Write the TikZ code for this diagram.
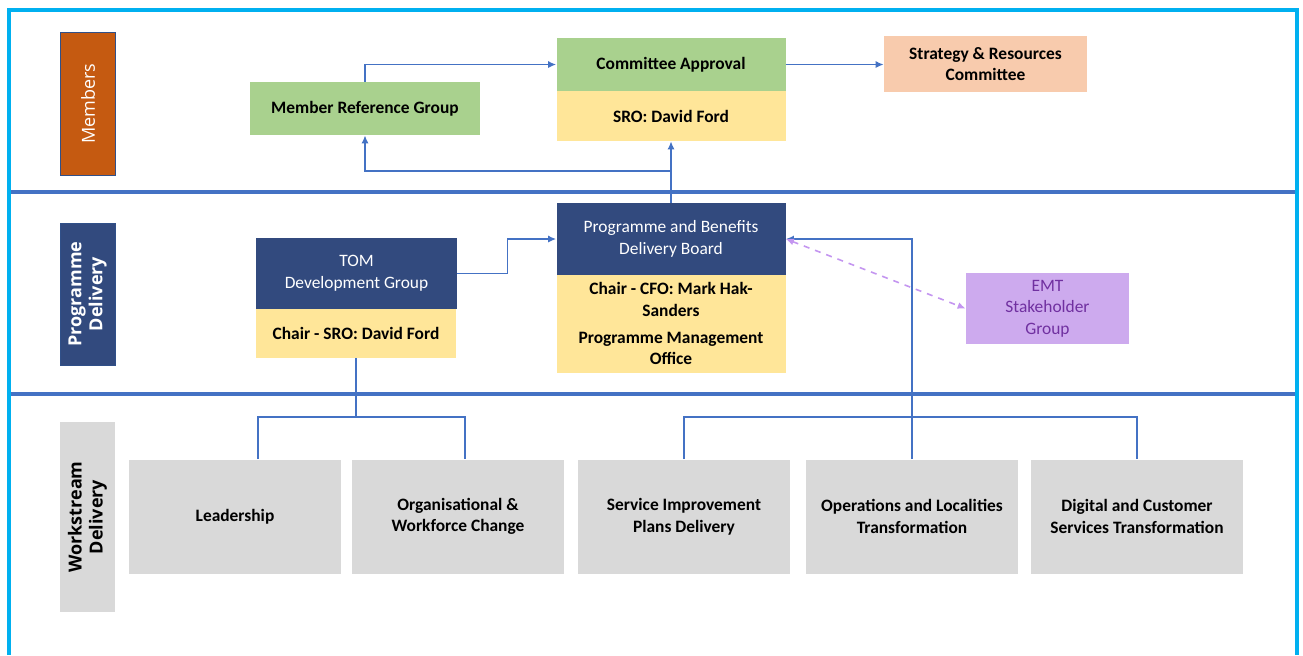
\documentclass[tikz,border=0pt]{standalone}
\usepackage{fontspec}
\setmainfont{Carlito}
\newfontfamily\lblfont{Open Sans}
\usetikzlibrary{arrows.meta}

\definecolor{framecyan}{HTML}{00B0F0}
\definecolor{linkblue}{HTML}{4472C4}
\definecolor{navy}{RGB}{50,74,126}
\definecolor{rust}{HTML}{C55A11}
\definecolor{leaf}{HTML}{A9D18E}
\definecolor{butter}{HTML}{FFE699}
\definecolor{peach}{HTML}{F8CBAD}
\definecolor{lilac}{RGB}{205,170,238}
\definecolor{plum}{HTML}{7030A0}
\definecolor{lilacline}{RGB}{196,150,240}
\definecolor{stone}{HTML}{D9D9D9}

\tikzset{
    box/.style={rectangle, inner sep=1pt, align=center,
        font=\bfseries\fontsize{8.7}{10.8}\selectfont},
    plainbox/.style={box, font=\fontsize{8.7}{10.8}\selectfont},
    stream/.style={box, fill=stone, minimum width=106pt, minimum height=57pt},
    lane/.style={rectangle, minimum height=27.5pt, rotate=90, align=center,
        font=\lblfont\fontsize{9}{10.5}\selectfont},
    boldlane/.style={lane, font=\lblfont\bfseries\fontsize{9}{10.5}\selectfont},
    link/.style={linkblue, line width=0.6pt},
    arr/.style={link, -{Latex[length=4pt,width=3.5pt]}},
}

\begin{document}
\begin{tikzpicture}[x=0.5pt, y=-0.5pt]
        \useasboundingbox (0,0) rectangle (1303,655);

        % frame and lane dividers
        \draw[framecyan, line width=2pt] (9,655) -- (9,10) -- (1297,10) -- (1297,655);
        \draw[linkblue, line width=2pt] (11,192) -- (1295,192);
        \draw[linkblue, line width=2pt] (11,394) -- (1295,394);

        % lane labels
        \node[lane, fill=rust, draw=linkblue!70!black, minimum width=71.5pt, text=white] (members) at (88,103.5) {Members};
        \node[boldlane, fill=navy, draw=linkblue!70!black, minimum width=71pt, text=white] (progdel) at (87.5,294) {Programme\\Delivery};
        \node[boldlane, fill=stone, minimum width=95pt] (workdel) at (87.5,517) {Workstream\\Delivery};

        % members lane
        \node[box, fill=leaf, minimum width=115pt, minimum height=26.5pt] (mrg) at (365,108.5) {Member Reference Group};
        \node[box, fill=leaf, minimum width=114.5pt, minimum height=26.5pt] (approval) at (671,64.5) {Committee Approval};
        \node[box, fill=butter, minimum width=114.5pt, minimum height=25pt] (sro) at (671,116) {SRO: David Ford};
        \node[box, fill=peach, minimum width=101.5pt, minimum height=28pt] (src) at (985.5,64) {Strategy \& Resources\\Committee};

        % programme lane
        \node[plainbox, fill=navy, text=white, minimum width=100.5pt, minimum height=35.5pt] (tom) at (356.5,273.5) {TOM\\Development Group};
        \node[box, fill=butter, minimum width=100pt, minimum height=24.5pt] (tomchair) at (356,333.5) {Chair - SRO: David Ford};
        \node[plainbox, fill=navy, text=white, minimum width=114.5pt, minimum height=36pt] (board) at (671,239) {Programme and Benefits\\Delivery Board};
        \node[box, fill=butter, minimum width=114.5pt, minimum height=24.5pt] (cfo) at (671,299.5) {Chair - CFO: Mark Hak-\\Sanders};
        \node[box, fill=butter, minimum width=114.5pt, minimum height=24.5pt] (pmo) at (671,348.5) {Programme Management\\Office};
        \node[plainbox, fill=lilac, text=plum, minimum width=81.5pt, minimum height=35.5pt] (emt) at (1047.5,308.5) {EMT\\Stakeholder\\Group};

        % workstream lane
        \node[stream] (lead) at (235,516.5) {Leadership};
        \node[stream] (org) at (458,516.5) {Organisational \&\\Workforce Change};
        \node[stream] (sip) at (684,516.5) {Service Improvement\\Plans Delivery};
        \node[stream] (ops) at (912,516.5) {Operations and Localities\\Transformation};
        \node[stream] (digital) at (1137,516.5) {Digital and Customer\\Services Transformation};

        % connectors
        \coordinate (upsplit) at (671,171);
        \coordinate (leftsplit) at (356,417);
        \coordinate (rightsplit) at (912,417);

        \draw[arr] (mrg.north) |- (approval.west);
        \draw[arr] (approval.east) -- (approval.east -| src.west);
        \draw[arr] (board.north) -- (sro.south);
        \draw[arr] (upsplit) -| (mrg.south);
        \draw[arr] (tom.east) -- ++(50,0) |- (board.west);
        \draw[arr] (ops.north) |- (board.east);
        \draw[lilacline, line width=0.8pt, dashed, {Latex[length=4pt,width=3.5pt]}-{Latex[length=4pt,width=3.5pt]}] (board.east) -- (emt.west);
        \draw[link] (tomchair.south) -- (leftsplit);
        \draw[link] ([xshift=11.5pt]lead.north) |- (leftsplit) -| ([xshift=3.5pt]org.north);
        \draw[link] (sip.north) |- (rightsplit) -| (digital.north);

    \end{tikzpicture}
\end{document}
